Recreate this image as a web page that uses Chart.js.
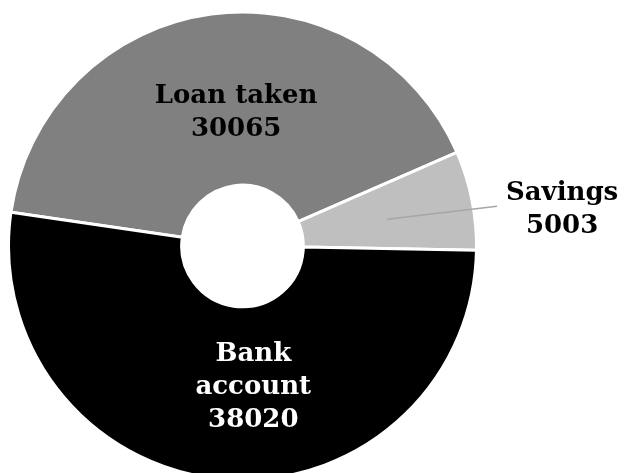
<!DOCTYPE html>
<html>
<head>
<meta charset="utf-8">
<script src="https://cdn.jsdelivr.net/npm/chart.js@4/dist/chart.umd.min.js"></script>
<style>
  html, body { margin: 0; padding: 0; background: #fff; }
  #wrap { width: 624px; height: 473px; position: relative; }
</style>
</head>
<body>
<div id="wrap"><canvas id="pie"></canvas></div>
<script>
// slice data, clockwise from the left edge
const categories = ['Loan taken', 'Savings', 'Bank account'];
const values = [30065, 5003, 38020];
const sliceColors = ['#808080', '#bfbfbf', '#000000'];
const labelColors = ['#000000', '#000000', '#ffffff'];

const FONT = 'bold 26px "DejaVu Serif", serif';
const LINE_H = 33;

// label lines: split "Bank account" onto two lines like the original
function labelLines(i) {
    const name = categories[i] === 'Bank account' ? ['Bank', 'account'] : [categories[i]];
    return name.concat([String(values[i])]);
}

const sliceLabels = {
    id: 'sliceLabels',
    afterDatasetsDraw(chart) {
        const ctx = chart.ctx;
        const arcs = chart.getDatasetMeta(0).data;
        ctx.save();
        ctx.font = FONT;
        ctx.textAlign = 'center';
        ctx.textBaseline = 'middle';
        arcs.forEach((arc, i) => {
            const p = arc.getProps(['x', 'y', 'startAngle', 'endAngle', 'outerRadius']);
            const mid = (p.startAngle + p.endAngle) / 2;
            const lines = labelLines(i);
            let cx, cy;
            if (categories[i] === 'Savings') {
                // outside label with a leader line
                const sx = p.x + Math.cos(mid) * p.outerRadius * 0.63;
                const sy = p.y + Math.sin(mid) * p.outerRadius * 0.63 + 2;
                ctx.strokeStyle = '#a6a6a6';
                ctx.lineWidth = 1.5;
                ctx.beginPath();
                ctx.moveTo(sx, sy);
                ctx.lineTo(sx + 110, sy - 13);
                ctx.stroke();
                cx = sx + 175;
                cy = sy - 9;
            } else {
                const r = p.outerRadius * 0.59;
                cx = p.x + Math.cos(mid) * r;
                cy = p.y + Math.sin(mid) * r;
                if (categories[i] === 'Loan taken') { cx += 12; cy += 4; }
                else { cx += 22; cy += 4; }
            }
            ctx.fillStyle = labelColors[i];
            const top = cy - (lines.length - 1) * LINE_H / 2;
            lines.forEach((t, k) => ctx.fillText(t, cx, top + k * LINE_H));
        });
        ctx.restore();
    }
};

new Chart(document.getElementById('pie'), {
    type: 'doughnut',
    data: {
        labels: categories,
        datasets: [{
            data: values,
            backgroundColor: sliceColors,
            borderColor: '#ffffff',
            borderWidth: 3,
            clip: false
        }]
    },
    options: {
        responsive: true,
        maintainAspectRatio: false,
        animation: false,
        rotation: 278.3,
        radius: 234,
        cutout: '26%',
        layout: { padding: { left: 0, right: 139, top: 19, bottom: 0 } },
        plugins: {
            legend: { display: false },
            tooltip: { enabled: false }
        }
    },
    plugins: [sliceLabels]
});
</script>
</body>
</html>
